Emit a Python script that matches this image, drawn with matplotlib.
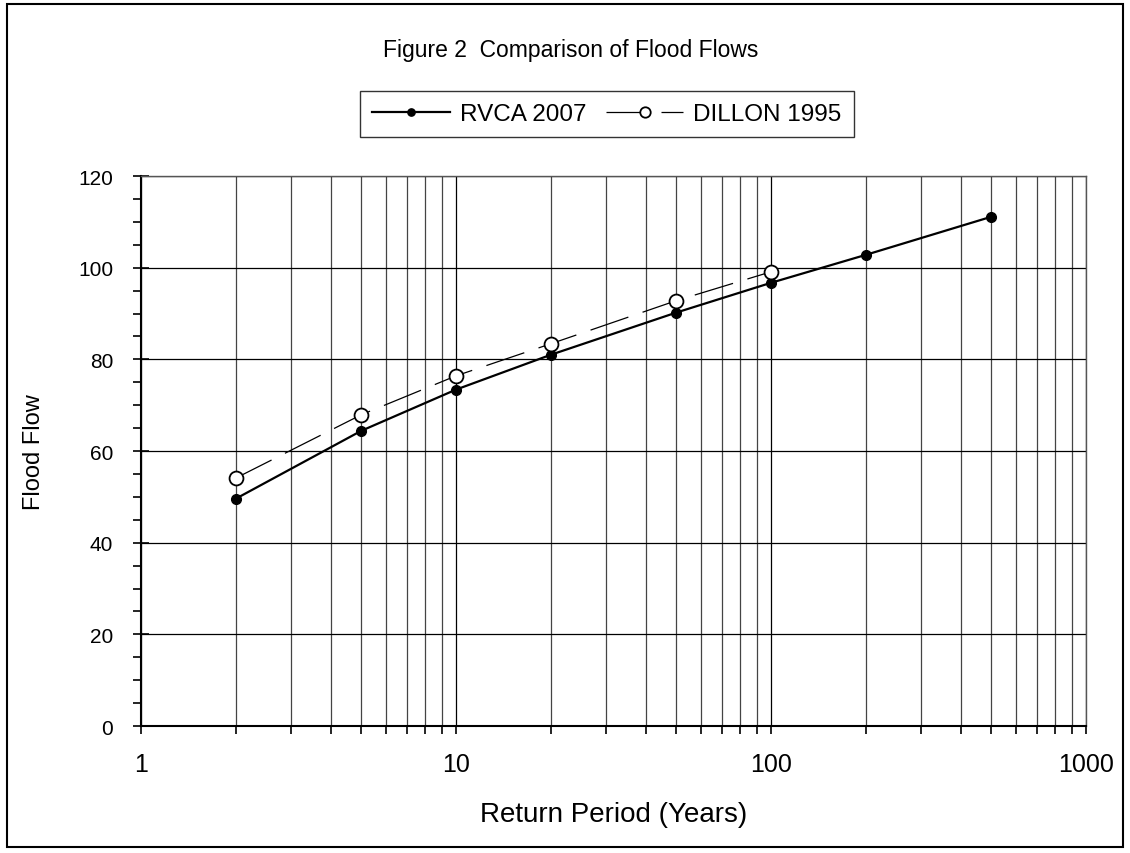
import matplotlib.pyplot as plt
from matplotlib.patches import Rectangle
from matplotlib.ticker import MultipleLocator, LogLocator, NullFormatter, FixedLocator, FixedFormatter

plt.rcParams['font.family'] = ['Liberation Sans', 'DejaVu Sans']

rvca_years = [2, 5, 10, 20, 50, 100, 200, 500]
rvca_flow = [49.6, 64.4, 73.4, 81.0, 90.2, 96.7, 102.8, 111.1]

dillon_years = [2, 5, 10, 20, 50, 100]
dillon_flow = [54.1, 67.9, 76.4, 83.4, 92.8, 99.1]

x_ticks = [1, 10, 100, 1000]
x_tick_labels = ['1', '10', '100', '1000']

fig = plt.figure(figsize=(11.3, 8.54), dpi=100)
ax = fig.add_axes([0.1248, 0.1487, 0.8362, 0.644])

fig.patches.append(Rectangle((0.0062, 0.007), 0.988, 0.987, transform=fig.transFigure,
                             fill=False, edgecolor='black', linewidth=1.5))

ax.plot(rvca_years, rvca_flow, color='black', linewidth=1.6, marker='o',
        markersize=7, markerfacecolor='black', markeredgecolor='black',
        label='RVCA 2007', zorder=4)
ax.plot(dillon_years, dillon_flow, color='black', linewidth=0.9,
        dashes=(32, 12), marker='o', markersize=10, markerfacecolor='white',
        markeredgecolor='black', markeredgewidth=1.3,
        label='DILLON 1995', zorder=5)

ax.set_xscale('log')
ax.set_xlim(1, 1000)
ax.set_ylim(0, 120)

ax.xaxis.set_major_locator(FixedLocator(x_ticks))
ax.xaxis.set_major_formatter(FixedFormatter(x_tick_labels))
ax.xaxis.set_minor_locator(LogLocator(base=10, subs=range(2, 10)))
ax.xaxis.set_minor_formatter(NullFormatter())
ax.yaxis.set_major_locator(MultipleLocator(20))
ax.yaxis.set_minor_locator(MultipleLocator(5))

ax.grid(which='major', axis='both', color='black', linewidth=0.9)
ax.grid(which='minor', axis='x', color='#444444', linewidth=0.9)
ax.set_axisbelow(True)

ax.tick_params(axis='x', which='both', direction='out', length=6, width=1.2,
               labelsize=18, pad=13)
ax.tick_params(axis='y', which='major', direction='inout', length=12, width=1.2,
               labelsize=15, pad=14)
ax.tick_params(axis='y', which='minor', direction='out', length=6, width=1.2)

for s in ax.spines.values():
    s.set_color('#555555')
    s.set_linewidth(1.0)
ax.spines['left'].set_color('black')
ax.spines['left'].set_linewidth(1.5)
ax.spines['bottom'].set_color('black')
ax.spines['bottom'].set_linewidth(1.5)

ax.set_xlabel('Return Period (Years)', fontsize=20, labelpad=18)
ax.set_ylabel('Flood Flow', fontsize=17, labelpad=24)

fig.text(0.505, 0.941, 'Figure 2  Comparison of Flood Flows', ha='center',
         va='center', fontsize=16.5)

leg = fig.legend(loc='center', bbox_to_anchor=(0.537, 0.865), ncol=2,
                 fontsize=17.5, frameon=True, fancybox=False, edgecolor='black',
                 handlelength=3.2, handletextpad=0.4, columnspacing=0.8,
                 borderpad=0.5, markerscale=0.75)
leg.get_frame().set_linewidth(1.0)

fig.savefig('out.png', dpi=100)
